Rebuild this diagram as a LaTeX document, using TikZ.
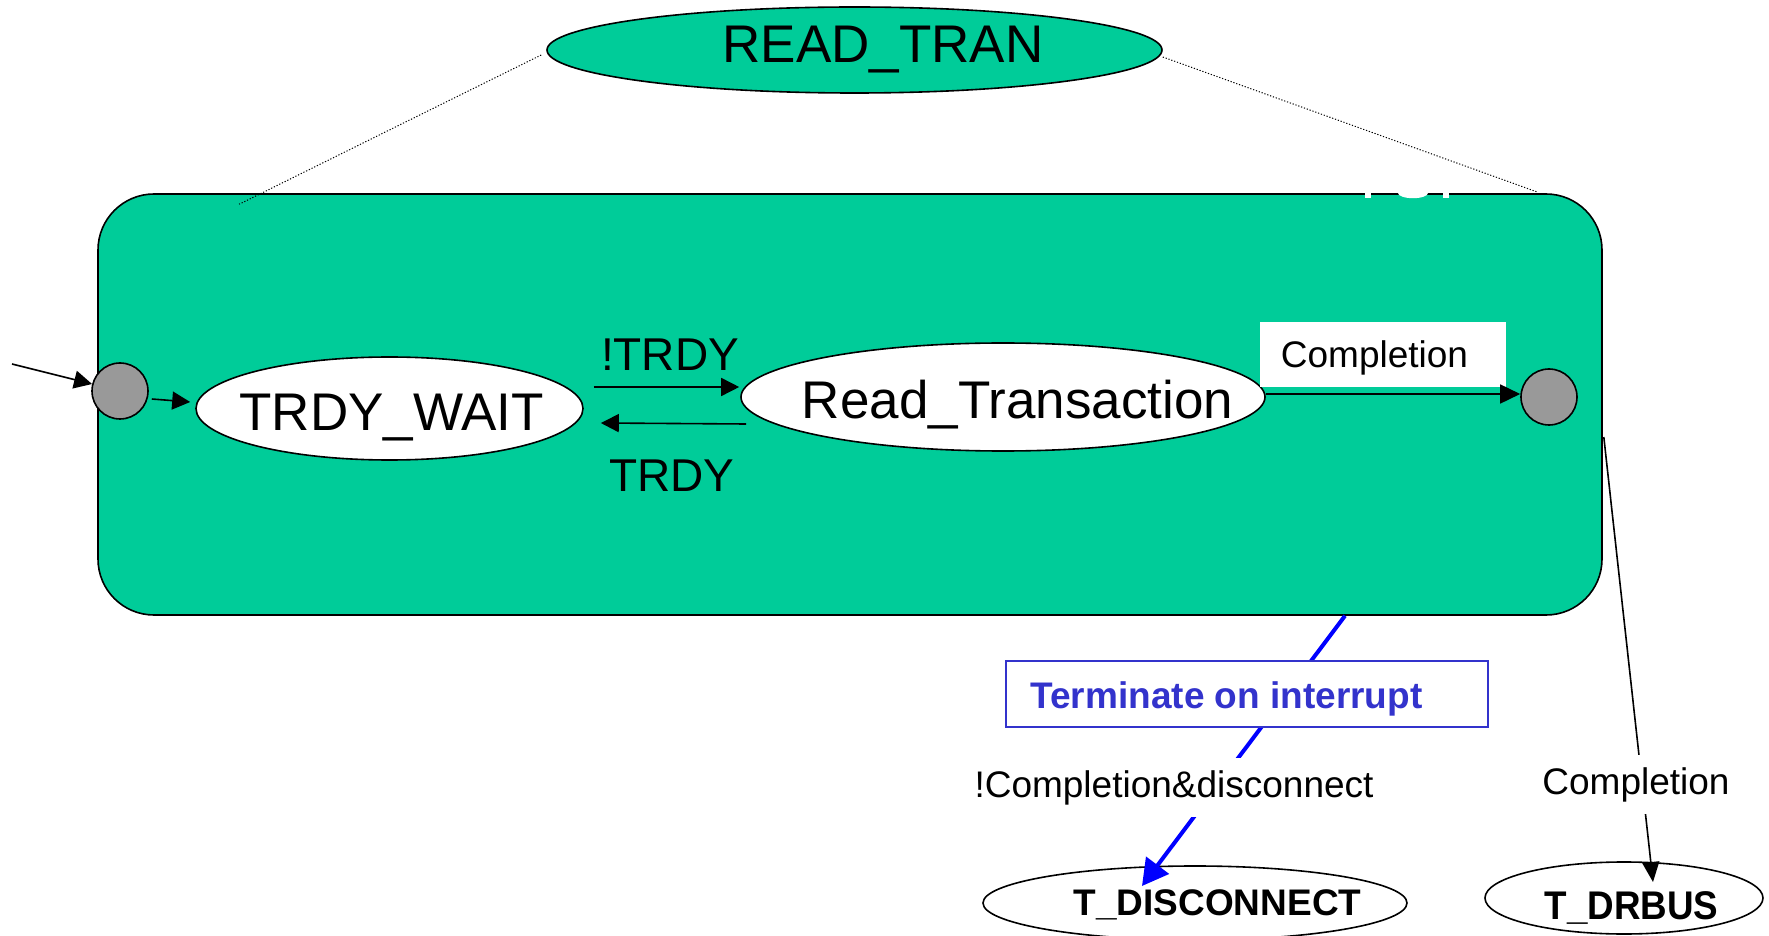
\documentclass[tikz,border=0pt]{standalone}
\usepackage{fontspec}
\setmainfont{Liberation Sans}
\usetikzlibrary{arrows.meta,shapes.geometric}
\definecolor{stategreen}{RGB}{0,204,153}
\definecolor{pseudogray}{RGB}{153,153,153}
\definecolor{intblue}{RGB}{0,0,255}
\definecolor{notecol}{RGB}{51,51,204}

\begin{document}
\begin{tikzpicture}[x=0.5pt,y=-0.5pt,
  big/.style={font=\fontsize{26.5pt}{30pt}\selectfont},
  mid/.style={font=\fontsize{23pt}{27pt}\selectfont},
  lbl/.style={font=\fontsize{18.5pt}{22pt}\selectfont},
  ell/.style={ellipse, draw=black, line width=0.8pt, inner sep=0pt},
  pseudo/.style={circle, draw=black, line width=0.8pt, fill=pseudogray, minimum size=28pt, inner sep=0pt},
  arr/.style={line width=0.8pt, -{Triangle[length=9pt,width=9pt]}},
  txt/.style={anchor=base, inner sep=0pt},
  gaplbl/.style={txt, lbl, fill=white, inner xsep=2pt, inner ysep=6pt},
]
\useasboundingbox (0,0) rectangle (1769,936);

% composite state body
\node[draw=black, line width=0.8pt, fill=stategreen, rounded corners=28pt,
      minimum width=752pt, minimum height=210.5pt, inner sep=0pt] (outer) at (850,404.5) {};
% small white fragments on the top edge
\fill[white] (1365,191) rectangle (1371,198);
\fill[white] (1443,191) rectangle (1449,198);
\fill[white] (1413,193) ellipse [x radius=7.5pt, y radius=2.6pt];

% superstate
\node[ell, fill=stategreen, minimum width=307.5pt, minimum height=43pt] (rtr) at (854.5,50) {};
\node[txt, big] (rtr-t) at (883,63) {READ\_TRAN};

% expansion lines
\draw[line width=0.5pt, dash pattern=on 0.6pt off 0.9pt]
  ([shift={(-5,5)}]rtr.west) -- ([shift={(142,11)}]outer.north west);
\draw[line width=0.5pt, dash pattern=on 0.6pt off 0.9pt]
  ([shift={(0,7)}]rtr.east) -- ([shift={(-65,-1)}]outer.north east);

% inner states
\node[pseudo] (init) at (120,391) {};
\node[pseudo] (fin) at (1549,397) {};
\node[ell, fill=white, minimum width=193.5pt, minimum height=51.5pt] (tw) at (389.5,408.5) {};
\node[txt, big] (tw-t) at (391.5,430) {TRDY\_WAIT};
\node[ell, fill=white, minimum width=262pt, minimum height=54pt] (rt) at (1003,397) {};
\node[txt, big] (rt-t) at (1017.5,419) {Read\_Transaction};

% entry
\coordinate (entry) at (12,364);
\draw[arr] (entry) -- (init);
\draw[arr] ([shift={(3,8)}]init.east) -- ([shift={(-5,-6.5)}]tw.west);

% inner transitions
\draw[arr] ([shift={(10,-21.5)}]tw.east) -- ([shift={(-1,-10)}]rt.west);
\node[txt, mid] (l-ntrdy) at (670,371) {!TRDY};
\draw[arr] ([shift={(6,27)}]rt.west) -- ([shift={(17,14.5)}]tw.east);
\node[txt, mid] (l-trdy) at (672,492) {TRDY};

\node[fill=white, minimum width=123pt, minimum height=32.5pt, inner sep=0pt] (cbox) at (1383,354.5) {};
\node[txt, lbl] (l-comp) at (1374.5,368) {Completion};
\draw[line width=0.8pt, -{Triangle[length=10pt,width=9.5pt]}]
  ([shift={(0,-3)}]rt.east) -- ([shift={(0,-3)}]fin.west);

% target states
\node[ell, fill=white, minimum width=212pt, minimum height=37pt] (td) at (1195,903) {};
\node[txt, font=\fontsize{18.5pt}{22pt}\selectfont\bfseries] (td-t) at (1217.5,915) {T\_DISCONNECT};
\node[ell, fill=white, minimum width=139pt, minimum height=36pt] (tdr) at (1624,898) {};
\node[txt, font=\fontsize{20pt}{24pt}\selectfont\bfseries] (tdr-t) at (1631.5,919) {\scalebox{0.92}[1]{T\_DRBUS}};

% interrupt exit
\draw[intblue, line width=2pt, -{Triangle[length=13pt,width=14pt]}]
  ([shift={(495,0)}]outer.south) -- ([shift={(-53,-17)}]td.center);
\node[draw=notecol, line width=0.75pt, fill=white, minimum width=241pt, minimum height=33pt, inner sep=0pt] (note) at (1247,694) {};
\node[txt, text=notecol, font=\fontsize{18.5pt}{22pt}\selectfont\bfseries] (note-t) at (1226.5,708) {Terminate on interrupt};
\node[gaplbl] (l-disc) at (1174,797) {!Completion\&disconnect};

% normal exit
\draw[line width=0.8pt, -{Triangle[length=10pt,width=8.5pt]}]
  ([shift={(1,32.5)}]outer.east) -- ([shift={(29,-16)}]tdr.center);
\node[gaplbl] (l-done) at (1636,794) {Completion};
\end{tikzpicture}
\end{document}
